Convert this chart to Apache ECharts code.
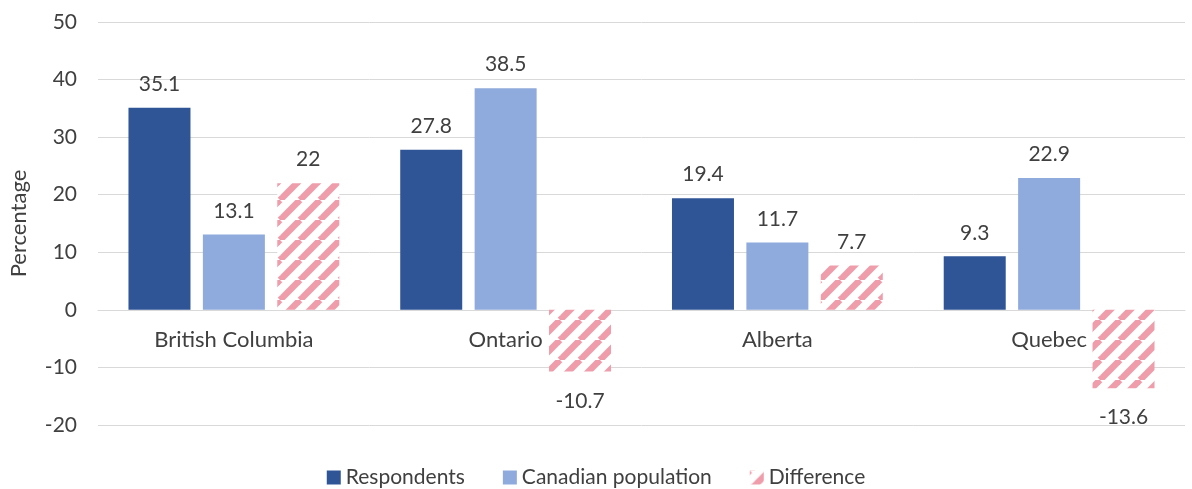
<!DOCTYPE html>
<html>
<head>
<meta charset="utf-8">
<script src="https://cdn.jsdelivr.net/npm/echarts@6/dist/echarts.min.js"></script>
<style>
  html, body { margin: 0; padding: 0; background: #fff; }
  #chart { width: 1192px; height: 489px; }
</style>
</head>
<body>
<div id="chart"></div>
<script>
// data
var provinces = ['British Columbia', 'Ontario', 'Alberta', 'Quebec'];
var respondents = [35.1, 27.8, 19.4, 9.3];
var canadianPop = [13.1, 38.5, 11.7, 22.9];
var difference = [22, -10.7, 7.7, -13.6];
var yTicks = [-20, -10, 0, 10, 20, 30, 40, 50];

var FONT = 'Lato, "Liberation Sans", sans-serif';
var TEXT = '#404040';
var FS = 21;

// diagonal hatch for the difference bars
function hatch() {
    var size = 20;
    var c = document.createElement('canvas');
    c.width = size;
    c.height = size;
    var ctx = c.getContext('2d');
    ctx.fillStyle = '#ffffff';
    ctx.fillRect(0, 0, size, size);
    ctx.strokeStyle = '#ef9dab';
    ctx.lineWidth = 6.5;
    for (var k = -1; k <= 1; k++) {
        ctx.beginPath();
        ctx.moveTo(k * size, size);
        ctx.lineTo(k * size + size, 0);
        ctx.stroke();
    }
    return c;
}

var chart = echarts.init(document.getElementById('chart'));

var labelStyle = {
    show: true,
    position: 'top',
    distance: 13,
    color: TEXT,
    fontSize: FS,
    fontFamily: FONT
};

var yMin = yTicks[0], yMax = yTicks[yTicks.length - 1];
var gridTop = 22, gridBottom = 64;
var plotH = 489 - gridTop - gridBottom;
// lift the category axis up to the zero line
var zeroOffset = plotH * (0 - yMin) / (yMax - yMin);

var option = {
    animation: false,
    grid: { left: 95, right: 7, top: gridTop, bottom: gridBottom },
    legend: {
        top: 462,
        left: 'center',
        icon: 'rect',
        itemWidth: 14,
        itemHeight: 14,
        itemGap: 38,
        textStyle: { color: TEXT, fontSize: FS, fontFamily: FONT },
        data: ['Respondents', 'Canadian population', 'Difference']
    },
    xAxis: {
        type: 'category',
        data: provinces,
        offset: -zeroOffset,
        axisLine: { onZero: false, lineStyle: { color: '#d9d9d9', width: 1 } },
        axisTick: { show: false },
        axisLabel: { color: TEXT, fontSize: 22, fontFamily: FONT, margin: 19 }
    },
    yAxis: {
        type: 'value',
        min: yMin,
        max: yMax,
        interval: 10,
        name: 'Percentage',
        nameLocation: 'middle',
        nameGap: 68,
        nameTextStyle: { color: TEXT, fontSize: 22, fontFamily: FONT },
        axisLine: { show: false },
        axisTick: { show: false },
        axisLabel: { color: TEXT, fontSize: FS, fontFamily: FONT, margin: 21 },
        splitLine: { lineStyle: { color: '#d9d9d9', width: 1 } }
    },
    series: [
        {
            name: 'Respondents',
            type: 'bar',
            data: respondents,
            barWidth: 62,
            barGap: '20%',
            itemStyle: { color: '#2f5597' },
            label: labelStyle
        },
        {
            name: 'Canadian population',
            type: 'bar',
            data: canadianPop,
            barWidth: 62,
            barGap: '20%',
            itemStyle: { color: '#8faadc' },
            label: labelStyle
        },
        {
            name: 'Difference',
            type: 'bar',
            barWidth: 62,
            barGap: '20%',
            data: difference.map(function (v) {
                return {
                    value: v,
                    label: v < 0 ? { position: 'bottom', distance: 19 } : {}
                };
            }),
            itemStyle: { color: { image: hatch(), repeat: 'repeat' } },
            label: labelStyle
        }
    ]
};

chart.setOption(option);
</script>
</body>
</html>
